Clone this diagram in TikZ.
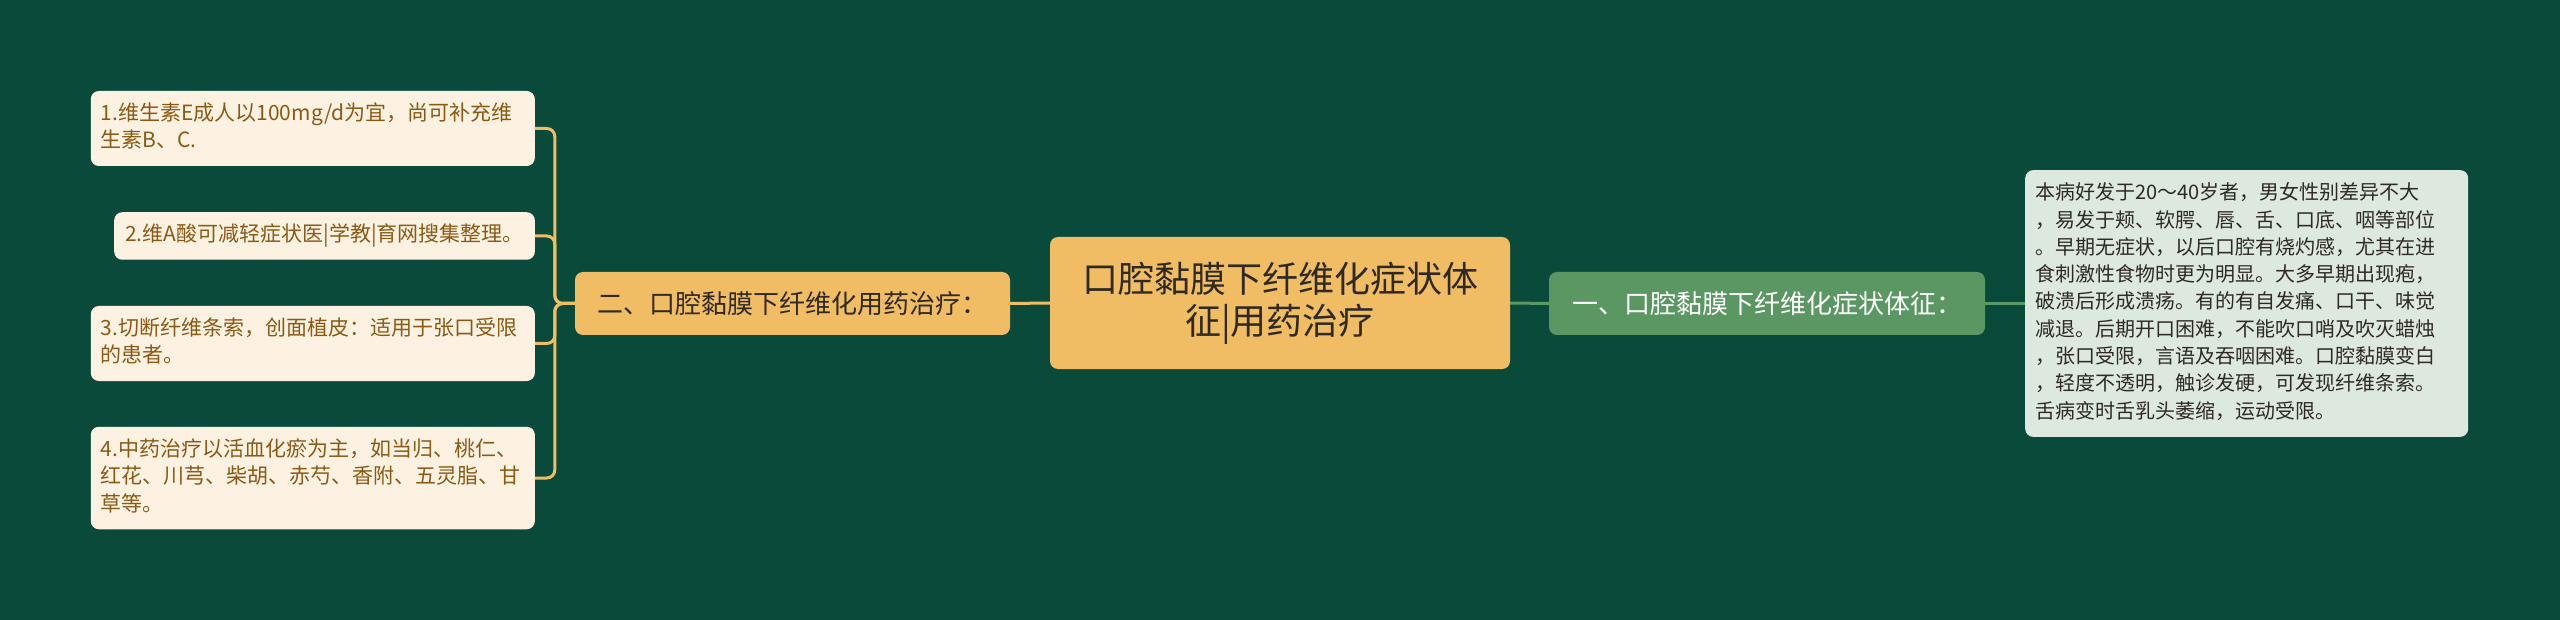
\documentclass[tikz,border=0pt]{standalone}
\usepackage{fontspec}
\setmainfont{Noto Sans CJK SC}
\usetikzlibrary{positioning}

\definecolor{bgdark}{HTML}{0A4A3B}
\definecolor{goldfill}{HTML}{F0BD65}
\definecolor{creamfill}{HTML}{FDF2E2}
\definecolor{leafbrown}{HTML}{8A5A14}
\definecolor{greenfill}{HTML}{5A9762}
\definecolor{palegreen}{HTML}{DDE8DF}
\definecolor{darktext}{HTML}{2E2A22}

\tikzset{
  rootbox/.style={fill=goldfill, rounded corners=8pt, minimum width=460pt, minimum height=132pt,
    align=center, text=darktext, font=\fontsize{36pt}{42pt}\selectfont, inner sep=0pt},
  goldbranch/.style={fill=goldfill, rounded corners=8pt, minimum width=435pt, minimum height=63pt,
    text=darktext, font=\fontsize{26pt}{32pt}\selectfont, inner sep=0pt},
  greenbranch/.style={fill=greenfill, rounded corners=8pt, minimum width=436pt, minimum height=63pt,
    text=white, font=\fontsize{26pt}{32pt}\selectfont, inner sep=0pt},
  creamleaf/.style={fill=creamfill, rounded corners=8pt, anchor=east, text=leafbrown,
    font=\fontsize{21pt}{27.5pt}\selectfont, align=left, inner xsep=10pt, inner ysep=10pt,
    execute at begin node=\strut, execute at end node=\strut},
  greenleaf/.style={fill=palegreen, rounded corners=8pt, anchor=west, text=darktext,
    font=\fontsize{20pt}{27.3pt}\selectfont, align=left, text width=423pt, inner xsep=10pt,
    inner ysep=10.5pt, execute at begin node=\strut, execute at end node=\strut},
  goldline/.style={draw=goldfill, line width=3pt},
  greenline/.style={draw=greenfill, line width=3pt}
}

\begin{document}
\begin{tikzpicture}[x=1pt, y=-1pt]
  \fill[bgdark] (0,0) rectangle (2560,620);
  \useasboundingbox (0,0) rectangle (2560,620);

  \node[rootbox] (root) at (1280,303) {口腔黏膜下纤维化症状体\\征|用药治疗};
  \node[goldbranch] (treat) at (792.5,303.5) {二、口腔黏膜下纤维化用药治疗：};
  \node[greenbranch] (sympt) at (1767,303.5) {一、口腔黏膜下纤维化症状体征：};

  % right side
  \node[greenleaf] (desc) at (2025,303.5) {本病好发于20～40岁者，男女性别差异不大\\，易发于颊、软腭、唇、舌、口底、咽等部位\\。早期无症状，以后口腔有烧灼感，尤其在进\\食刺激性食物时更为明显。大多早期出现疱，\\破溃后形成溃疡。有的有自发痛、口干、味觉\\减退。后期开口困难，不能吹口哨及吹灭蜡烛\\，张口受限，言语及吞咽困难。口腔黏膜变白\\，轻度不透明，触诊发硬，可发现纤维条索。\\舌病变时舌乳头萎缩，运动受限。};

  % left side
  \node[creamleaf, text width=424pt] (leaf1) at (535,128.5) {1.维生素E成人以100mg/d为宜，尚可补充维\\生素B、C.};
  \node[creamleaf, inner xsep=11pt] (leaf2) at (535,236) {2.维A酸可减轻症状医|学教|育网搜集整理。};
  \node[creamleaf, text width=424pt] (leaf3) at (535,343.5) {3.切断纤维条索，创面植皮：适用于张口受限\\的患者。};
  \node[creamleaf, text width=424pt] (leaf4) at (535,478) {4.中药治疗以活血化瘀为主，如当归、桃仁、\\红花、川芎、柴胡、赤芍、香附、五灵脂、甘\\草等。};

  \draw[goldline] (root.west) -- (treat.east);
  \draw[greenline] (root.east) -- (sympt.west);
  \draw[greenline] (sympt.east) -- (desc.west);
  \foreach \n in {1,...,4}
    \draw[goldline, rounded corners=8pt] (treat.west) -- ++(-20,0) |- (leaf\n.east);
\end{tikzpicture}
\end{document}
